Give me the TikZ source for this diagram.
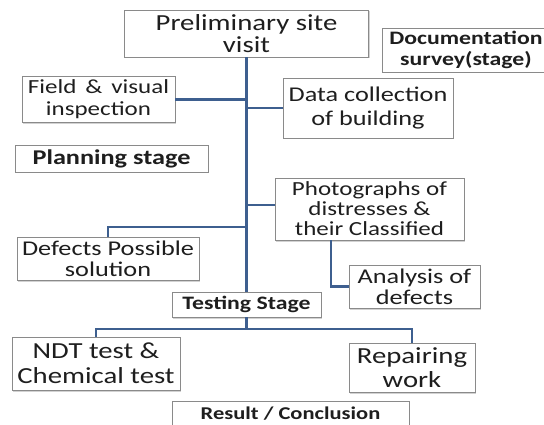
\documentclass[tikz,border=0pt]{standalone}
\usepackage{fontspec}
\setmainfont{Carlito}[FakeStretch=1.25]
\usetikzlibrary{shadows}
\definecolor{linecol}{HTML}{3E5F8F}
\definecolor{boxcol}{HTML}{8A8A8A}
\definecolor{txtcol}{HTML}{1E1E1E}
\newcommand{\fsz}[2]{\fontsize{#1}{#2}\selectfont}
\tikzset{
  box/.style={draw=boxcol, line width=0.8pt, fill=white, align=center, text=txtcol,
    inner sep=0pt, drop shadow={opacity=0.35, shadow xshift=1pt, shadow yshift=-1.5pt, fill=gray}},
  conn/.style={draw=linecol, line width=2.2pt},
}
\begin{document}
\begin{tikzpicture}[x=1pt,y=1pt]
\useasboundingbox (0,0) rectangle (544,-425);
\fill[white] (0,0) rectangle (544,-425);
% boxes
\node[box, minimum width=244pt, minimum height=47pt, font={\fsz{23}{22}}] (prelim) at (246.5,-33.5) {Preliminary site\\visit};
\node[box, minimum width=168pt, minimum height=44pt, font={\fsz{19}{21}\bfseries}] (doc) at (466,-50) {Documentation\\survey(stage)};
\node[box, minimum width=153pt, minimum height=46pt, font={\fsz{20}{22}}] (field) at (98.5,-99.5) {Field \,\&\, visual\\inspection};
\node[box, minimum width=170pt, minimum height=60pt, font={\fsz{21}{24}}] (data) at (368,-108) {Data collection\\of building};
\node[box, minimum width=193pt, minimum height=27pt, font={\fsz{21}{22}\bfseries}] (plan) at (111.5,-158.5) {Planning stage};
\node[box, minimum width=189pt, minimum height=62pt, font={\fsz{20}{20}}] (photo) at (369.5,-209) {Photographs of\\distresses \&\\their Classified};
\node[box, minimum width=182pt, minimum height=43pt, font={\fsz{21}{21}}] (defects) at (108,-258.5) {Defects Possible\\solution};
\node[box, minimum width=131pt, minimum height=43pt, font={\fsz{21}{21}}] (analysis) at (414.5,-286.5) {Analysis of\\defects};
\node[box, minimum width=149pt, minimum height=25pt, font={\fsz{19}{20}\bfseries}] (testing) at (246.5,-304.5) {Testing Stage};
\node[box, minimum width=168pt, minimum height=53pt, font={\fsz{23}{25}}] (ndt) at (96,-363.5) {NDT test \&\\Chemical test};
\node[box, minimum width=126pt, minimum height=49pt, font={\fsz{23}{24}}] (repair) at (412,-367.5) {Repairing\\work};
\node[box, minimum width=237pt, minimum height=24pt, font={\fsz{18}{20}\bfseries}] (result) at (290.5,-413.5) {Result / Conclusion};
% junction coordinates
\coordinate (jdef) at (246.5,-227);
\coordinate (jphoto) at (331,-240);
\coordinate (jtest) at (246.5,-329);
% connectors
\draw[conn] (prelim.south) -- (testing.north);
\draw[conn] (field.east) -- (field.east -| prelim.south);
\draw[conn] (data.west) -- (data.west -| prelim.south);
\draw[conn] ([yshift=4pt]photo.west) -- ([yshift=4pt]photo.west -| prelim.south);
\draw[conn] (jdef) -| (defects.north);
\draw[conn] (jphoto) |- (analysis.west);
\draw[conn] (testing.south) -- (jtest);
\draw[conn] (ndt.north) -- (ndt.north |- jtest) -- (repair.north |- jtest) -- (repair.north);
\end{tikzpicture}
\end{document}
